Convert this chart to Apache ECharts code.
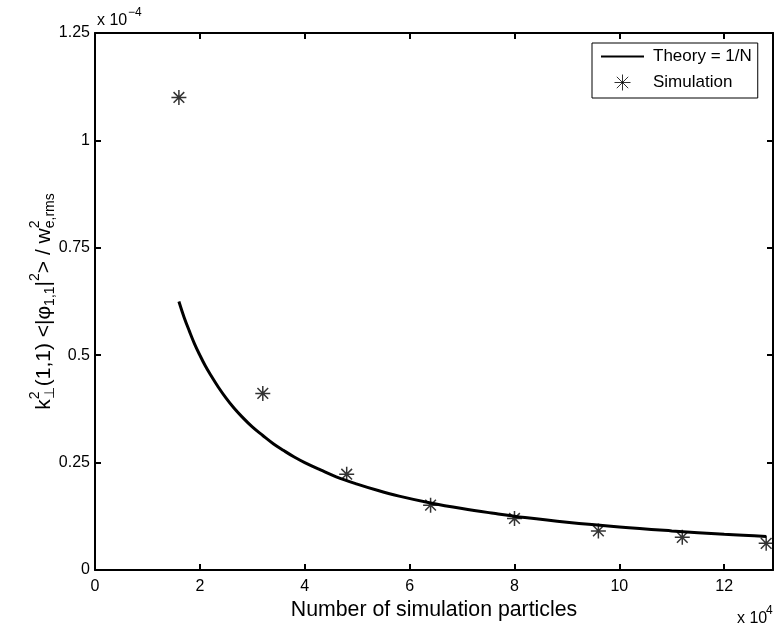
<!DOCTYPE html>
<html><head><meta charset="utf-8">
<script src="https://cdn.jsdelivr.net/npm/echarts@6/dist/echarts.min.js"></script>
<style>html,body{margin:0;padding:0;background:#fff}#c{width:777px;height:629px}</style>
</head><body><div id="c"></div>
<script>
// Data (x in units of 1e4 particles, y in units of 1e-4)
const simN = [1.6, 3.2, 4.8, 6.4, 8.0, 9.6, 11.2, 12.8];
const simVal = [1.10, 0.411, 0.223, 0.151, 0.120, 0.091, 0.076, 0.062];
const theoryN = [1.6, 1.7, 1.8, 1.9, 2.0, 2.1, 2.2, 2.35, 2.5, 2.65, 2.8, 3.0, 3.2, 3.4, 3.6, 3.8, 4.0, 4.3, 4.6, 5.0, 5.4, 5.8, 6.4, 7.0, 7.6, 8.2, 9.0, 10.0, 11.0, 12.0, 12.8];
const theoryVal = [0.625, 0.588, 0.556, 0.526, 0.500, 0.476, 0.455, 0.426, 0.400, 0.377, 0.357, 0.333, 0.313, 0.294, 0.278, 0.263, 0.250, 0.233, 0.217, 0.200, 0.185, 0.172, 0.156, 0.143, 0.132, 0.122, 0.111, 0.100, 0.091, 0.083, 0.078];
const xTicks = [0, 2, 4, 6, 8, 10, 12];
const yTicks = [0, 0.25, 0.5, 0.75, 1, 1.25];
const seriesNames = ['Theory = 1/N', 'Simulation'];

const FF = '"Liberation Sans", Arial, Helvetica, sans-serif';
const chart = echarts.init(document.getElementById('c'), null, {renderer: 'canvas'});

// y-axis title layout
const cv = document.createElement('canvas').getContext('2d');
function tw(t, s) { cv.font = s + 'px ' + FF; return cv.measureText(t).width; }
const M = 21, S = 14, UP = -9, DN = 6;
let cx = 0; const segs = [];
function add(t, size, dy) { segs.push({t, size, dy, x: cx}); cx += tw(t, size); }
function stack(sup, sub) {
  const x0 = cx;
  segs.push({t: sup, size: S, dy: UP, x: x0});
  segs.push({t: sub, size: S, dy: DN, x: x0});
  cx = x0 + Math.max(tw(sup, S), tw(sub, S)) + 1;
}
add('k', M, 0);
stack('2', '⊥');
add('(1,1) <|φ', M, 0);
add('1,1', S, DN);
add('|', M, 0);
add('2', S, UP);
add('> / w', M, 0);
stack('2', 'e,rms');
const total = cx;
const titleChildren = segs.map(s => ({
  type: 'text', x: s.x - total / 2, y: s.dy,
  style: {text: s.t, font: s.size + 'px ' + FF, fill: '#000', verticalAlign: 'middle', align: 'left'}
}));

const axisCommon = {
  type: 'value',
  axisLine: {show: true, onZero: false, lineStyle: {color: '#000', width: 2}},
  axisTick: {show: true, inside: true, length: 6, lineStyle: {color: '#000', width: 2}},
  splitLine: {show: false}
};

const option = {
  animation: false,
  backgroundColor: '#fff',
  grid: {left: 95, right: 4, top: 33, bottom: 59, containLabel: false},
  xAxis: [
    Object.assign({}, axisCommon, {
      min: 0, max: 12.93, interval: 2, position: 'bottom',
      axisLabel: {color: '#000', fontSize: 16, fontFamily: FF, margin: 9,
        formatter: v => xTicks.indexOf(v) >= 0 ? String(v) : ''},
      name: 'Number of simulation particles', nameLocation: 'middle', nameGap: 29,
      nameTextStyle: {color: '#000', fontSize: 21.3, fontFamily: FF}
    }),
    Object.assign({}, axisCommon, {
      min: 0, max: 12.93, interval: 2, position: 'top', axisLabel: {show: false}
    })
  ],
  yAxis: [
    Object.assign({}, axisCommon, {
      min: 0, max: 1.25, interval: 0.25, position: 'left',
      axisLabel: {color: '#000', fontSize: 16, fontFamily: FF, margin: 5,
        formatter: v => yTicks.indexOf(v) >= 0 ? String(v) : ''}
    }),
    Object.assign({}, axisCommon, {
      min: 0, max: 1.25, interval: 0.25, position: 'right', axisLabel: {show: false}
    })
  ],
  legend: {
    orient: 'vertical', left: 592, top: 43,
    data: [
      {name: seriesNames[0], itemStyle: {opacity: 0}},
      {name: seriesNames[1], itemStyle: {borderWidth: 1}}
    ],
    padding: [5, 6, 5, 8], itemGap: 7, itemWidth: 43, itemHeight: 16,
    borderColor: '#000', borderWidth: 1, backgroundColor: '#fff',
    textStyle: {fontSize: 17, color: '#000', fontFamily: FF, padding: [0, 0, 0, 4]}
  },
  series: [
    {
      name: seriesNames[0], type: 'line', smooth: 0.4,
      symbol: 'none', showSymbol: false, data: theoryN.map((n, i) => [n, theoryVal[i]]),
      lineStyle: {color: '#000', width: 3}, itemStyle: {color: '#000'}, z: 3
    },
    {
      name: seriesNames[1], type: 'scatter',
      symbol: 'path://M0,-8L0,8M-8,0L8,0M-5.7,-5.7L5.7,5.7M-5.7,5.7L5.7,-5.7',
      symbolSize: 15, symbolKeepAspect: true,
      data: simN.map((n, i) => [n, simVal[i]]),
      itemStyle: {color: 'none', borderColor: '#000', borderWidth: 1.5}, z: 4
    }
  ],
  graphic: [
    {type: 'group', x: 44, y: 301, rotation: Math.PI / 2, children: titleChildren},
    {type: 'text', x: 97, y: 20.5, style: {text: 'x 10', font: '16px ' + FF, fill: '#000', verticalAlign: 'middle'}},
    {type: 'text', x: 128, y: 12.5, style: {text: '−4', font: '12px ' + FF, fill: '#000', verticalAlign: 'middle'}},
    {type: 'text', x: 737, y: 619, style: {text: 'x 10', font: '16px ' + FF, fill: '#000', verticalAlign: 'middle'}},
    {type: 'text', x: 766, y: 611, style: {text: '4', font: '12px ' + FF, fill: '#000', verticalAlign: 'middle'}}
  ]
};
chart.setOption(option);
</script></body></html>
